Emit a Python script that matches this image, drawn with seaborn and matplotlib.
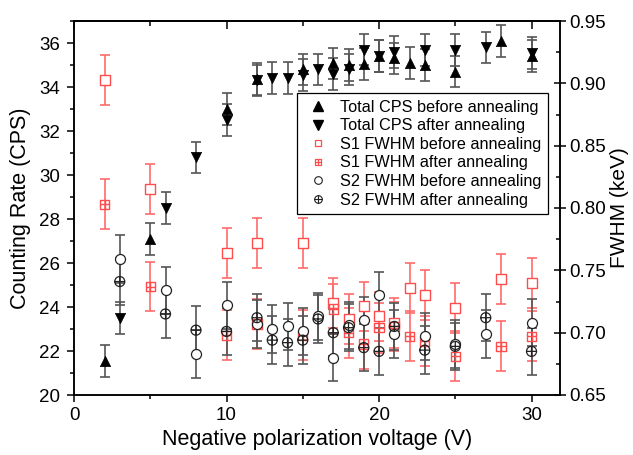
import matplotlib
matplotlib.use("Agg")
import matplotlib.pyplot as plt
import seaborn as sns
from matplotlib.path import Path
from matplotlib.lines import Line2D
from matplotlib.ticker import MultipleLocator, FormatStrFormatter

# ---------------- data ----------------
volt_before = [2, 5, 10, 12, 15, 17, 18, 19, 20, 21, 22, 23, 25, 28, 30]
volt_after = [3, 6, 8, 10, 12, 13, 14, 15, 16, 17, 18, 19, 20, 21, 23, 25, 27, 30]

cps_before = [21.55, 27.1, 33.0, 34.35, 34.8, 35.07, 35.0, 35.06, 35.4, 35.3,
              35.1, 35.0, 34.7, 36.1, 35.4]
cps_after = [23.5, 28.5, 30.8, 32.5, 34.3, 34.4, 34.4, 34.55, 34.8, 34.58,
             34.8, 35.7, 35.4, 35.6, 35.67, 35.67, 35.8, 35.55]
cps_err = 0.72

s1_before = [0.903, 0.815, 0.764, 0.772, 0.772, 0.724, 0.711, 0.721, 0.713,
             0.708, 0.736, 0.730, 0.720, 0.743, 0.740]
s1_after = [0.803, 0.737, 0.698, 0.707, 0.698, 0.719, 0.700, 0.691, 0.704,
            0.705, 0.697, 0.693, 0.681, 0.689, 0.697]
s2_before = [0.759, 0.734, 0.683, 0.722, 0.707, 0.703, 0.705, 0.701, 0.713,
             0.680, 0.706, 0.710, 0.730, 0.699, 0.697, 0.691, 0.699, 0.708]
s2_after = [0.741, 0.715, 0.702, 0.701, 0.712, 0.694, 0.692, 0.694, 0.711,
            0.700, 0.704, 0.688, 0.685, 0.705, 0.686, 0.689, 0.712, 0.685]
s1_err = 0.02
s2_err = 0.019

legend_labels = ["Total CPS before annealing", "Total CPS after annealing",
                 "S1 FWHM before annealing", "S1 FWHM after annealing",
                 "S2 FWHM before annealing", "S2 FWHM after annealing"]

# ---------------- style ----------------
sns.set_style("ticks")
plt.rcParams['font.family'] = ['Liberation Sans', 'DejaVu Sans']
plt.rcParams['axes.edgecolor'] = 'black'
plt.rcParams['axes.labelcolor'] = 'black'
plt.rcParams['text.color'] = 'black'
plt.rcParams['axes.linewidth'] = 1.1
plt.rcParams['xtick.color'] = 'black'
plt.rcParams['ytick.color'] = 'black'
plt.rcParams['xtick.labelcolor'] = 'black'
plt.rcParams['ytick.labelcolor'] = 'black'

RED = '#ff4d4d'
RED_ERR = '#ff6b6b'
GRAY_ERR = '#555555'

# custom markers: boxed plus and circled plus
M, L, C = Path.MOVETO, Path.LINETO, Path.CLOSEPOLY
box_plus = Path([(-1, -1), (1, -1), (1, 1), (-1, 1), (-1, -1),
                 (0, -1), (0, 1), (-1, 0), (1, 0)],
                [M, L, L, L, C, M, L, M, L])
circ_plus = Path.make_compound_path(
    Path.unit_circle(),
    Path([(0, -1), (0, 1)], [M, L]),
    Path([(-1, 0), (1, 0)], [M, L]))

fig = plt.figure(figsize=(6.33, 4.55), dpi=100)
ax = fig.add_axes([74 / 633, 1 - 395 / 455, (560.5 - 74) / 633, (395 - 21) / 455])
ax2 = ax.twinx()

# error bars
eb = dict(fmt='none', elinewidth=1.2, capsize=3.3, capthick=1.2, zorder=1)
ax.errorbar(volt_before, cps_before, yerr=cps_err, ecolor=GRAY_ERR, **eb)
ax.errorbar(volt_after, cps_after, yerr=cps_err, ecolor=GRAY_ERR, **eb)
ax2.errorbar(volt_before, s1_before, yerr=s1_err, ecolor=RED_ERR, **eb)
ax2.errorbar(volt_before, s1_after, yerr=s1_err, ecolor=RED_ERR, **eb)
ax2.errorbar(volt_after, s2_before, yerr=s2_err, ecolor=GRAY_ERR, **eb)
ax2.errorbar(volt_after, s2_after, yerr=s2_err, ecolor=GRAY_ERR, **eb)

# markers
sns.scatterplot(x=volt_before, y=cps_before, ax=ax, marker='^', s=55,
                color='black', edgecolor='black', linewidth=0.5, zorder=3, legend=False)
sns.scatterplot(x=volt_after, y=cps_after, ax=ax, marker='v', s=55,
                color='black', edgecolor='black', linewidth=0.5, zorder=3, legend=False)
sns.scatterplot(x=volt_before, y=s1_before, ax=ax2, marker='s', s=45,
                color=RED, facecolor='white', edgecolor=RED, linewidth=1.0,
                zorder=3, legend=False)
sns.scatterplot(x=volt_before, y=s1_after, ax=ax2, marker=box_plus, s=45,
                color=RED, facecolor='none', edgecolor=RED, linewidth=1.0,
                zorder=3, legend=False)
sns.scatterplot(x=volt_after, y=s2_before, ax=ax2, marker='o', s=52,
                color='#222222', facecolor='white', edgecolor='#222222', linewidth=0.9,
                zorder=3, legend=False)
sns.scatterplot(x=volt_after, y=s2_after, ax=ax2, marker=circ_plus, s=52,
                color='#222222', facecolor='none', edgecolor='#222222', linewidth=0.9,
                zorder=3, legend=False)

# axes limits / ticks
ax.set_xlim(0, 31.9)
ax.set_ylim(20, 37)
ax2.set_ylim(0.65, 0.95)
ax.xaxis.set_major_locator(MultipleLocator(10))
ax.xaxis.set_minor_locator(MultipleLocator(5))
ax.yaxis.set_major_locator(MultipleLocator(2))
ax.yaxis.set_minor_locator(MultipleLocator(1))
ax2.yaxis.set_major_locator(MultipleLocator(0.05))
ax2.yaxis.set_minor_locator(MultipleLocator(0.025))
ax2.yaxis.set_major_formatter(FormatStrFormatter('%.2f'))

ax.tick_params(axis='both', which='major', direction='out', length=5, width=1.1,
               labelsize=13.5, pad=4)
ax.tick_params(axis='both', which='minor', direction='out', length=3, width=1.1)
ax.tick_params(axis='y', which='major', pad=5)
ax2.tick_params(axis='y', which='major', direction='inout', length=8, width=1.1,
                labelsize=13.5, pad=2)
ax2.tick_params(axis='y', which='minor', direction='in', length=3, width=1.1)

top = ax.secondary_xaxis('top')
top.xaxis.set_major_locator(MultipleLocator(10))
top.xaxis.set_minor_locator(MultipleLocator(5))
top.tick_params(which='major', direction='in', length=6, width=1.1, labeltop=False)
top.tick_params(which='minor', direction='in', length=3.5, width=1.1)

for a in (ax, ax2):
    for sp in a.spines.values():
        sp.set_color('black')
        sp.set_linewidth(1.1)

ax.set_xlabel('Negative polarization voltage (V)', fontsize=15.5, labelpad=3)
ax.set_ylabel('Counting Rate (CPS)', fontsize=15.5, labelpad=6)
ax2.set_ylabel('FWHM (keV)', fontsize=15, labelpad=3)

# legend
handles = [
    Line2D([], [], ls='none', marker='^', ms=7.5, color='black'),
    Line2D([], [], ls='none', marker='v', ms=7.5, color='black'),
    Line2D([], [], ls='none', marker='s', ms=5, mfc='white', mec=RED, mew=0.9),
    Line2D([], [], ls='none', marker=box_plus, ms=5, mfc='none', mec=RED, mew=0.9),
    Line2D([], [], ls='none', marker='o', ms=5.5, mfc='white', mec='#222222', mew=0.8),
    Line2D([], [], ls='none', marker=circ_plus, ms=5.5, mfc='none', mec='#222222', mew=0.8),
]
leg = ax2.legend(handles, legend_labels, loc='upper right',
                 bbox_to_anchor=(0.975, 0.807), borderaxespad=0,
                 fontsize=11.7, frameon=True, fancybox=False, framealpha=1,
                 edgecolor='black', borderpad=0.4, handlelength=1.8,
                 handletextpad=0.5, labelspacing=0.22)
leg.get_frame().set_linewidth(0.9)
leg.set_zorder(5)

fig.savefig('out.png', dpi=100)
